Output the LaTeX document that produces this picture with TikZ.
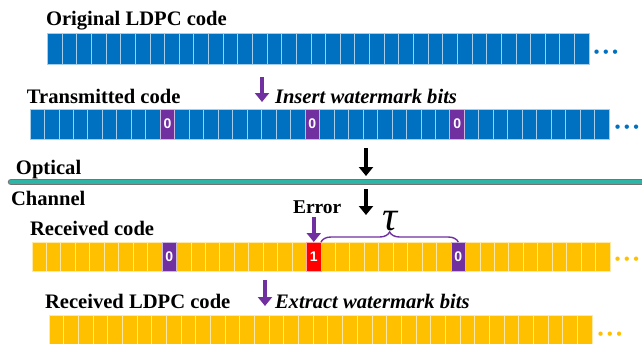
\documentclass[tikz,border=0pt]{standalone}
\usepackage{fontspec}
\setmainfont{Liberation Serif}
\newfontfamily\bitfont{Liberation Sans}
\usetikzlibrary{positioning,arrows.meta,decorations.pathreplacing}
\definecolor{codeblue}{HTML}{0070C0}
\definecolor{codegold}{HTML}{FFC000}
\definecolor{markpurple}{HTML}{7030A0}
\definecolor{errred}{HTML}{FF0000}
\definecolor{fiber}{HTML}{2EB5A5}
\newcommand{\moredots}{\textbullet\hspace{3.7pt}\textbullet\hspace{3.7pt}\textbullet}

\begin{document}
\begin{tikzpicture}[x=1pt,y=-1pt,
      every node/.style={inner sep=0pt,outer sep=0pt},
      title/.style={anchor=base west,font=\fontsize{20.6}{24}\selectfont\bfseries},
      note/.style={anchor=base west,font=\fontsize{20.6}{24}\selectfont\bfseries\itshape},
      bit/.style={rectangle,minimum width=#1,line width=0.9pt,
        font=\bitfont\fontsize{14}{14}\selectfont\bfseries,text=white},
      bluebit/.style={bit=#1,fill=codeblue,draw=codeblue!35!white},
      goldbit/.style={bit=#1,fill=codegold,draw=codegold!35!white},
      wmbit/.style={fill=markpurple,draw=markpurple!35!white},
      badbit/.style={fill=errred,draw=errred!35!white},
      more/.style={anchor=center,font=\bitfont\fontsize{16}{16}\selectfont},
      fat/.style={line width=4pt,-{Triangle[width=14pt,length=9pt]}}]

      \useasboundingbox (0,0) rectangle (642,343);

      % original code word
      \node[title] (orig-lbl) at (46,25) {Original LDPC code};
      \foreach \i in {1,...,37}
        \node[bluebit=14.64pt,minimum height=31pt] (orig-\i)
          at ({47.5+(\i-0.5)*14.64},48.5) {};
      \node[more,text=codeblue] (orig-dots) at (606,54) {\moredots};

      % transmitted code word
      \node[title] (tx-lbl) at (27,103) {Transmitted code};
      \node[note] (tx-note) at (275,103) {Insert watermark bits};
      \coordinate (tx-a) at (262,77);
      \coordinate (tx-b) at (262,102);
      \draw[fat,markpurple] (tx-a) -- (tx-b);
      \foreach \i in {1,...,40}
        \node[bluebit=14.48pt,minimum height=30pt] (tx-\i)
          at ({30+(\i-0.5)*14.48},124) {};
      \foreach \i in {10,20,30}
        \node[bluebit=14.48pt,minimum height=30pt,wmbit] at (tx-\i) {0};
      \node[more,text=codeblue] (tx-dots) at (627,129) {\moredots};

      % optical channel
      \node[title] (ch-top) at (16,174) {Optical};
      \node[title] (ch-bot) at (11,205) {Channel};
      \draw[line cap=round,line width=6.5pt,black!55] (11,182) -- (660,182);
      \draw[line cap=round,line width=4.5pt,fiber] (11,182) -- (660,182);
      \coordinate (ch-a) at (366,148);
      \coordinate (ch-b) at (366,176);
      \coordinate (ch-c) at (366,189);
      \coordinate (ch-d) at (366,215);
      \draw[fat] (ch-a) -- (ch-b);
      \draw[fat] (ch-c) -- (ch-d);

      % received code word
      \node[title] (rx-lbl) at (30,235) {Received code};
      \foreach \i in {1,...,40}
        \node[goldbit=14.45pt,minimum height=29pt] (rx-\i)
          at ({32+(\i-0.5)*14.45},256.5) {};
      \node[goldbit=14.45pt,minimum height=29pt,wmbit] at (rx-10) {0};
      \node[goldbit=14.45pt,minimum height=29pt,badbit] at (rx-20) {1};
      \node[goldbit=14.45pt,minimum height=29pt,wmbit] at (rx-30) {0};
      \node[more,text=codegold] (rx-dots) at (627,261) {\moredots};
      \node[title,font=\fontsize{19.5}{24}\selectfont\bfseries] (err) at (293,213) {Error};
      \coordinate (err-a) at (rx-20.north |- 0,217);
      \draw[fat,markpurple] (err-a) -- (rx-20.north);
      \draw[markpurple,line width=1.4pt,decorate,decoration={brace,amplitude=10pt}]
        (rx-20.north east) -- (rx-30.north) node[midway,above=11pt,text=black] (tau)
        {\fontsize{42}{42}\selectfont\itshape τ};

      % decoded code word
      \node[title] (dec-lbl) at (45,308) {Received LDPC code};
      \node[note] (dec-note) at (275,308) {Extract watermark bits};
      \coordinate (dec-a) at (265,280);
      \coordinate (dec-b) at (265,306);
      \draw[fat,markpurple] (dec-a) -- (dec-b);
      \foreach \i in {1,...,37}
        \node[goldbit=14.68pt,minimum height=29pt] (dec-\i)
          at ({49+(\i-0.5)*14.68},329.5) {};
      \node[more,text=codegold] (dec-dots) at (610,336) {\moredots};
    \end{tikzpicture}
\end{document}
